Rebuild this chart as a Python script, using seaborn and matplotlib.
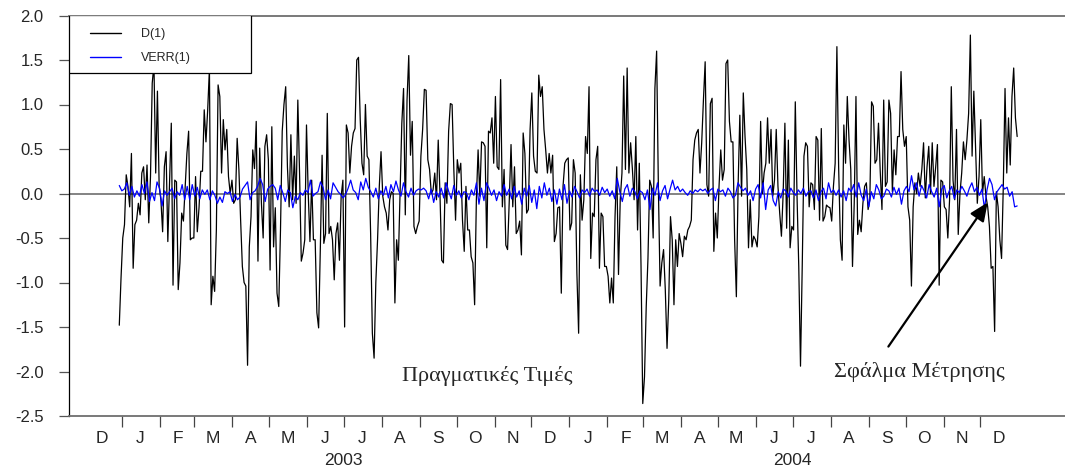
import matplotlib
matplotlib.use("Agg")
import matplotlib.pyplot as plt
import matplotlib.dates as mdates
import matplotlib.transforms as mtransforms
from matplotlib.patches import Rectangle
import numpy as np
import pandas as pd
import seaborn as sns

# D(1): daily values, Dec 2002 .. Dec 2004
d1_values = [
    -1.48, -0.95, -0.50, -0.35, 0.21, 0.08, -0.15, 0.45, -0.84, -0.35, -0.30, -0.11, -0.24, 0.23, 0.30,
    -0.07, 0.32, -0.33, 0.19, 1.24, 1.45, 0.23, 1.15, 0.08, -0.07, -0.43, 0.30, 0.47, -0.54, 0.12, 0.79,
    -1.03, 0.15, 0.13, -1.08, -0.78, -0.22, -0.31, 0.08, 0.45, 0.70, -0.52, -0.50, -0.50, 0.19, -0.43,
    -0.16, 0.25, 0.25, 0.94, 0.58, 0.94, 1.40, -1.25, -0.93, -1.10, -0.41, 1.22, 1.09, 0.23, 0.83, 0.49,
    0.72, 0.19, 0.00, 0.15, -0.11, -0.07, 0.62, 0.27, -0.30, -0.82, -1.00, -1.04, -1.93, -0.60, -0.26,
    0.49, 0.28, 0.81, -0.76, 0.51, -0.11, -0.50, 0.53, 0.66, 0.38, -0.86, 0.75, -0.60, -0.16, -1.12,
    -1.27, -0.41, 0.70, 1.00, 1.20, 0.30, -0.15, 0.66, -0.07, 0.42, -0.11, 1.05, 0.23, -0.76, -0.67,
    -0.52, 0.77, 0.00, -0.54, 0.15, -0.52, -0.52, -1.34, -1.51, -0.60, 0.43, -0.56, -0.45, 0.90, -0.45,
    -0.37, -0.52, -0.97, -0.45, -0.33, -0.75, -0.03, 0.15, -1.50, 0.77, 0.68, 0.23,
    0.53, 0.68, 0.73, 1.50, 1.53, 0.83, 0.34, 0.21, 1.00, 0.42, 0.38, -0.45, -1.57, -1.85, -1.00, -0.52,
    0.08, 0.47, -0.03, -0.15, -0.22, -0.41, -0.07, 0.02, 0.00, -1.23, -0.52, -0.75, 0.00, 0.79, 1.18,
    -0.24, 1.05, 1.55, 0.43, 0.81, -0.37, -0.45, -0.37, -0.31, 0.42, 0.72, 1.17, 1.16, 0.38, 0.27, 0.00,
    0.04, 0.23, -0.07, 0.60, 0.00, -0.75, -0.78, 0.12, -0.11, 0.70, 1.01, 1.00, 0.27, -0.30, 0.38, 0.23,
    0.34, -0.30, -0.65, 0.08, -0.41, -0.41, -0.71, -0.78, -1.25, -0.07, 0.49, -0.03, 0.58, 0.57, 0.53,
    -0.61, 0.70, 0.68, 0.85, 0.34, 1.09, 0.30, 0.27, 1.28, -0.15, 0.27, -0.58, -0.63, -0.07, 0.55, -0.15,
    0.30, -0.45, -0.41, -0.31, -0.69, 0.68, 0.45, -0.22, -0.18, 0.72, 1.13, 0.42, 0.25, 0.23, 1.33, 1.09,
    1.20, 0.72, 0.49, 0.23, 0.45, 0.23, 0.43, -0.54, -0.45, -0.16, -0.15, -1.12, 0.08, 0.34, 0.38, 0.40,
    -0.41, -0.33, 0.38, 0.23, -0.90, -1.57, 0.21, -0.30, -0.07, 0.64, 0.45, 1.20, -0.73, -0.22, -0.26,
    0.38, 0.53, -0.84, -0.22, -0.26, -0.82, -0.82, -0.93, -1.23, -0.95, -1.23, -0.26, 0.30, -0.91, -0.07,
    0.23, 1.32, 0.27, 1.41, 0.23, 0.57, 0.28, -0.07, 0.64, -0.41, 0.34, -0.82, -2.36, -2.06, -1.27, -0.73,
    0.15, 0.08, -0.50, 1.18, 1.60, 0.08, -1.04, -0.78, -0.63, -1.08, -1.74, -1.19, -0.26, -0.52, -1.25,
    -0.52, -0.82, -0.45, -0.56, -0.71, -0.48, -0.52, -0.41, -0.37, -0.30, 0.38, 0.60, 0.68,
    0.72, 0.23, 0.57, 1.05, 1.48, 0.10, -0.03, 1.01, 1.07, -0.65, -0.22, -0.50, 0.08, 0.49, 0.15, 0.27,
    1.46, 1.50, 0.81, 0.58, 0.58, -0.52, -1.16, 0.08, 0.88, -0.03, 1.13, 0.64, 0.27, -0.61, -0.07, -0.60,
    -0.48, -0.52, -0.60, -0.26, 0.81, 0.00, 0.23, 0.34, 0.85, 0.34, 0.72, -0.03, 0.15, 0.72, 0.08, -0.22,
    -0.48, 0.00, 0.79, -0.39, 0.60, -0.61, -0.37, -0.41, 1.03, -0.03, -0.82, -1.94, -0.82, 0.42, 0.57,
    0.53, -0.15, 0.12, 0.10, -0.18, 0.64, 0.60, -0.30, 0.73, -0.31, -0.26, -0.13, -0.15, -0.16, -0.31,
    0.08, 0.34, 1.65, 0.30, -0.52, -0.75, 0.77, 0.34, 1.09, 0.60, 0.27, -0.82, -0.11, 1.09, -0.46, -0.30,
    -0.43, -0.11, 0.08, 0.12, -0.18, -0.07, 1.03, 0.98, 0.34, 0.38, 0.79, 0.25, -0.18, 1.05, 0.08, 0.13,
    1.05, 0.90, 0.02, 0.49, 0.21, 0.64, 0.64, 1.37, 0.72, 0.53, 0.64, -0.15, -0.30, -1.04, -0.15, 0.12,
    0.00, 0.23, 0.08, 0.27, 0.57, -0.05, 0.30, 0.53, 0.00, 0.57, 0.08, 0.30, 0.55, -1.03, 0.15, 0.13,
    -0.15, -0.18, -0.50, -0.07, 1.20, 0.15, -0.07, 0.72, -0.46, 0.00, 0.23, 0.58, 0.38, 0.60, 0.90, 1.78,
    0.42, 1.15, 0.53, -0.11, 0.19, 0.83, 0.00, 0.19, -0.03, -0.15, -0.37, -0.84, -0.82, -1.55, 0.02,
    -0.15, -0.52, -0.73, 0.08, 1.18, 0.23, 0.85, 0.32, 1.09, 1.41, 0.85, 0.64,
]

# VERR(1): measurement error series
verr_values = [
    0.09, 0.03, 0.05, 0.12, -0.02, 0.08, -0.04, 0.03, -0.03, 0.10, 0.00, 0.13, -0.09, 0.01, -0.08, 0.13,
    0.06, -0.14, 0.03, -0.02, 0.02, 0.06, -0.06, 0.02, -0.02, 0.10, -0.07, 0.08, -0.07, 0.10, -0.03, 0.07,
    -0.06, 0.04, -0.01, 0.04, -0.07, 0.03, -0.02, -0.11, -0.04, -0.10, 0.02, 0.00, 0.02, -0.09, -0.01,
    -0.07, -0.04, 0.05, 0.09, 0.13, -0.07, 0.01, 0.03, 0.08, 0.17, 0.10, -0.09, 0.05, 0.08, 0.10, 0.06,
    -0.07, 0.09, 0.01, -0.09, 0.04, 0.01, -0.16, -0.03, -0.07, 0.01, -0.02, 0.04, 0.01, 0.15, -0.03, 0.00,
    0.02, 0.13, 0.07, -0.07, 0.04, -0.06, 0.12, 0.07, 0.02, -0.01, -0.05, -0.01, 0.06, 0.15, 0.04, 0.01,
    -0.07,
    0.13, 0.04, 0.17, 0.07, 0.02, -0.04, 0.06, -0.06, 0.03, -0.02, 0.08, -0.05, 0.10, 0.02, 0.14, 0.04,
    -0.03, 0.12, 0.02, -0.04, 0.06, -0.02, 0.03, 0.05, 0.04, 0.06, 0.03, -0.06, 0.05, -0.10, 0.02, -0.04,
    0.06, -0.05, 0.12, 0.02, -0.06, 0.09, -0.02, 0.03, -0.05, 0.02, 0.01, -0.07, 0.04, -0.02, 0.12, -0.12,
    0.06, -0.08, 0.12, 0.06, -0.02, 0.04, -0.08, 0.02, -0.03, 0.10, -0.02, 0.05, -0.06, 0.08, -0.04, 0.03,
    -0.12, 0.06, -0.03, 0.09, -0.10, 0.04, -0.17, 0.08, -0.05, 0.12, -0.02, 0.06, -0.09, 0.04, -0.12, 0.05,
    -0.07, 0.10, -0.11, 0.03, -0.04, 0.08, 0.02, -0.05, 0.04, 0.01, 0.05, -0.03, 0.06, 0.02, 0.04, -0.02,
    0.07, 0.01, 0.05, -0.03, 0.03, -0.06, 0.17, 0.02, -0.09, 0.05, 0.10, -0.03, 0.06, 0.02, -0.06, 0.03,
    0.01, -0.07, 0.04, -0.18, 0.06, -0.02, 0.12, -0.08, 0.03, 0.09, -0.06, 0.05, 0.15, 0.04, 0.08, 0.02,
    0.05, 0.01, -0.02, 0.03, 0.00, 0.04, 0.02, 0.05, 0.03, 0.05, 0.00, 0.04,
    0.06, -0.08, 0.05, 0.02, 0.04, -0.03, 0.06, 0.02, -0.05, -0.02, 0.12, 0.07, 0.03, 0.06, -0.02, 0.03,
    -0.08, 0.05, 0.10, -0.05, 0.12, -0.18, 0.04, 0.09, -0.08, -0.14, 0.02, -0.05, 0.05, 0.03, -0.04, 0.06,
    0.01, -0.02, 0.04, 0.00, 0.06, -0.03, 0.02, 0.03, -0.05, 0.04, -0.08, 0.02, 0.06, -0.06, 0.12, 0.01,
    0.04, -0.02, 0.04, -0.04, 0.03, -0.08, 0.06, 0.02, 0.10, -0.04, 0.12, -0.02, -0.08, 0.05, -0.15, 0.02,
    -0.06, 0.10, 0.04, -0.06, -0.03, 0.05, 0.03, -0.04, 0.07, -0.01, 0.06, -0.12, 0.03, 0.08, 0.02, 0.20,
    0.04, 0.12, -0.03, 0.09, 0.03, -0.05, 0.10, 0.02, -0.04, 0.06, -0.15, 0.05, 0.09, -0.05, 0.03, 0.08,
    -0.06, 0.04, 0.01, 0.08, 0.03, -0.03, 0.06, 0.12, 0.02, 0.07, -0.02, 0.05, -0.17, 0.04, 0.17, 0.10,
    -0.07, 0.02, 0.06, 0.10, 0.05, 0.07, -0.03, 0.02, -0.15, -0.14,
]

series_start = "2002-12-30"
series_end = "2004-12-31"

month_letters = ["D", "J", "F", "M", "A", "M", "J", "J", "A", "S", "O", "N",
                 "D", "J", "F", "M", "A", "M", "J", "J", "A", "S", "O", "N", "D"]
year_labels = ["2003", "2004"]
y_ticks = [-2.5, -2.0, -1.5, -1.0, -0.5, 0.0, 0.5, 1.0, 1.5, 2.0]

sns.set_style("white")
plt.rcParams["font.family"] = ["Liberation Sans", "DejaVu Sans"]
plt.rcParams["axes.unicode_minus"] = False

fig = plt.figure(figsize=(10.65, 4.7), dpi=100)
ax_h = 416 - 15.5
ax = fig.add_axes([69 / 1065, 1 - 416 / 470, 1 - 69 / 1065, ax_h / 470])

d1_dates = pd.date_range(series_start, series_end, periods=len(d1_values))
verr_dates = pd.date_range(series_start, series_end, periods=len(verr_values))

ax.axhline(0, color="#7a7a7a", lw=1.3, zorder=1)
sns.lineplot(x=d1_dates, y=d1_values, color="black", lw=0.9, label="D(1)",
             estimator=None, ax=ax, zorder=2)
sns.lineplot(x=verr_dates, y=verr_values, color="#0000ff", lw=0.9, label="VERR(1)",
             estimator=None, ax=ax, zorder=3)

ax.set_xlim(pd.Timestamp("2002-11-19"), pd.Timestamp("2005-02-08"))
ax.set_ylim(-2.5, 2.0)
ax.set_xlabel("")
ax.set_ylabel("")

# month boundary ticks, letters centred in each month
month_starts = pd.date_range("2003-01-01", "2004-12-01", freq="MS")
mid_months = pd.date_range("2002-12-01", "2004-12-01", freq="MS") + pd.Timedelta(days=15)
ax.set_xticks(mdates.date2num(month_starts))
ax.set_xticklabels([])
ax.set_xticks(mdates.date2num(mid_months), minor=True)
ax.set_xticklabels(month_letters, minor=True)
ax.tick_params(axis="x", which="major", direction="out", length=8, width=0.9,
               color="#444444", bottom=True)
ax.tick_params(axis="x", which="minor", length=0, pad=11, labelsize=12.5, bottom=True)

ax.set_yticks(y_ticks)
ax.set_yticklabels([f"{v:.1f}" for v in y_ticks])
ax.tick_params(axis="y", direction="out", length=7.3, width=0.9, color="#555555",
               pad=11, labelsize=12, left=True)

for side in ["top", "bottom"]:
    ax.spines[side].set_color("#6e6e6e")
    ax.spines[side].set_linewidth(1.3)
ax.spines["left"].set_color("black")
ax.spines["left"].set_linewidth(0.9)
ax.spines["right"].set_visible(False)

trans = mtransforms.blended_transform_factory(ax.transData, ax.transAxes)
for year in year_labels:
    ax.text(pd.Timestamp(f"{year}-07-01"), -0.112, year, transform=trans,
            ha="center", va="center", fontsize=12.5)

# legend box: frame drawn separately so the entries can sit inside a wider box
ax.add_patch(Rectangle((0, 1 - 57 / ax_h), 182 / 996, 57 / ax_h, transform=ax.transAxes,
                       facecolor="white", edgecolor="black", lw=0.9, zorder=5))
leg = ax.legend(loc="upper left", bbox_to_anchor=(21 / 996, 1 - 12.5 / ax_h),
                fontsize=9, frameon=False, borderaxespad=0, borderpad=0,
                handlelength=2.5, handletextpad=1.6, labelspacing=0.95)
leg.set_zorder(6)
for line in leg.get_lines():
    line.set_linewidth(1.0)

serif = ["Liberation Serif", "DejaVu Serif"]
ax.text(pd.Timestamp("2003-10-26"), -2.05, "Πραγματικές Τιμές", family=serif,
        fontsize=16, ha="center", va="center")
ax.text(pd.Timestamp("2004-10-12"), -2.0, "Σφάλμα Μέτρησης", family=serif,
        fontsize=16, ha="center", va="center")
ax.annotate("", xy=(pd.Timestamp("2004-12-07"), -0.10),
            xytext=(pd.Timestamp("2004-09-17"), -1.72),
            arrowprops=dict(arrowstyle="-|>,head_length=0.8,head_width=0.35",
                            color="black", lw=1.6, mutation_scale=14,
                            shrinkA=0, shrinkB=0))

fig.savefig("out.png", dpi=100)
